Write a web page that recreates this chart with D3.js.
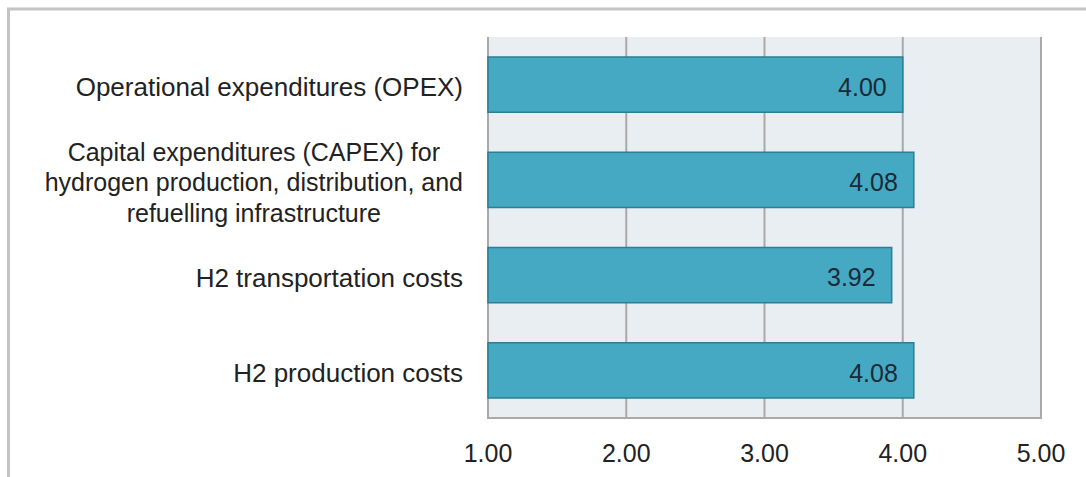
<!DOCTYPE html>
<html>
<head>
<meta charset="utf-8">
<script src="https://cdn.jsdelivr.net/npm/d3@7"></script>
<style>
  html, body { margin: 0; padding: 0; background: #fff; }
  svg { display: block; font-family: "Liberation Sans", Arial, sans-serif; }
</style>
</head>
<body>
<svg id="chart" width="1086" height="477"></svg>
<script>
// Mean ratings per cost item (scale 1–5)
const categories = [
  "Operational expenditures (OPEX)",
  "Capital expenditures (CAPEX) for|hydrogen production, distribution, and|refuelling infrastructure",
  "H2 transportation costs",
  "H2 production costs"
];
const values = [4.00, 4.08, 3.92, 4.08];
const tickValues = [1, 2, 3, 4, 5];

const svg = d3.select("#chart");
const W = 1086, H = 477;
const margin = { left: 488, right: 45, top: 37, bottom: 59 };

// outer frame
svg.append("rect")
  .attr("x", 8.5).attr("y", 9).attr("width", W + 20).attr("height", H + 20)
  .attr("fill", "#fff").attr("stroke", "#c4c4c4").attr("stroke-width", 3);

const x = d3.scaleLinear().domain([1, 5]).range([margin.left, W - margin.right]);
const y = d3.scaleBand().domain(categories).range([margin.top, H - margin.bottom]).paddingInner(0.42).paddingOuter(0.21);

// plot background
svg.append("rect")
  .attr("x", x(1)).attr("y", margin.top)
  .attr("width", x(5) - x(1)).attr("height", H - margin.bottom - margin.top)
  .attr("fill", "#e9eef2");

// vertical gridlines
svg.append("g").selectAll("line").data(tickValues).join("line")
  .attr("x1", d => x(d)).attr("x2", d => x(d))
  .attr("y1", margin.top).attr("y2", H - margin.bottom)
  .attr("stroke", "#a9a9a9").attr("stroke-width", 2);

// bottom axis line
svg.append("line")
  .attr("x1", x(1) - 1).attr("x2", x(5) + 1)
  .attr("y1", H - margin.bottom).attr("y2", H - margin.bottom)
  .attr("stroke", "#a9a9a9").attr("stroke-width", 2);

// bars
svg.append("g").selectAll("rect").data(categories).join("rect")
  .attr("x", x(1))
  .attr("y", d => y(d))
  .attr("width", (d, i) => x(values[i]) - x(1))
  .attr("height", y.bandwidth())
  .attr("fill", "#45a9c4")
  .attr("stroke", "#2d7e92").attr("stroke-width", 1.5);

// value labels inside bars
svg.append("g").selectAll("text").data(categories).join("text")
  .attr("x", (d, i) => x(values[i]) - 16)
  .attr("y", d => y(d) + y.bandwidth() / 2)
  .attr("dy", "0.45em")
  .attr("text-anchor", "end")
  .attr("font-size", 25)
  .attr("fill", "#1b2a36")
  .text((d, i) => d3.format(".2f")(values[i]));

// category labels (multi-line blocks right-aligned, lines centred)
const labelG = svg.append("g");
categories.forEach(c => {
  const lines = c.split("|");
  const fs = lines.length > 1 ? 25 : 26;
  const t = labelG.append("text")
    .attr("font-size", fs).attr("fill", "#222");
  const lh = 30.5;
  const y0 = y(c) + y.bandwidth() / 2 - (lines.length - 1) * lh / 2;
  lines.forEach((ln, k) => {
    t.append("tspan").attr("y", y0 + k * lh).attr("dy", "0.45em").text(ln);
  });
  // measure widest line to right-align the block at x = 463
  const widths = t.selectAll("tspan").nodes().map(n => n.getComputedTextLength());
  const cx = 463 - d3.max(widths) / 2;
  t.selectAll("tspan").attr("x", cx).attr("text-anchor", "middle");
});

// x axis tick labels
svg.append("g").selectAll("text").data(tickValues).join("text")
  .attr("x", d => x(d))
  .attr("y", 462)
  .attr("text-anchor", "middle")
  .attr("font-size", 25)
  .attr("fill", "#222")
  .text(d => d3.format(".2f")(d));
</script>
</body>
</html>
